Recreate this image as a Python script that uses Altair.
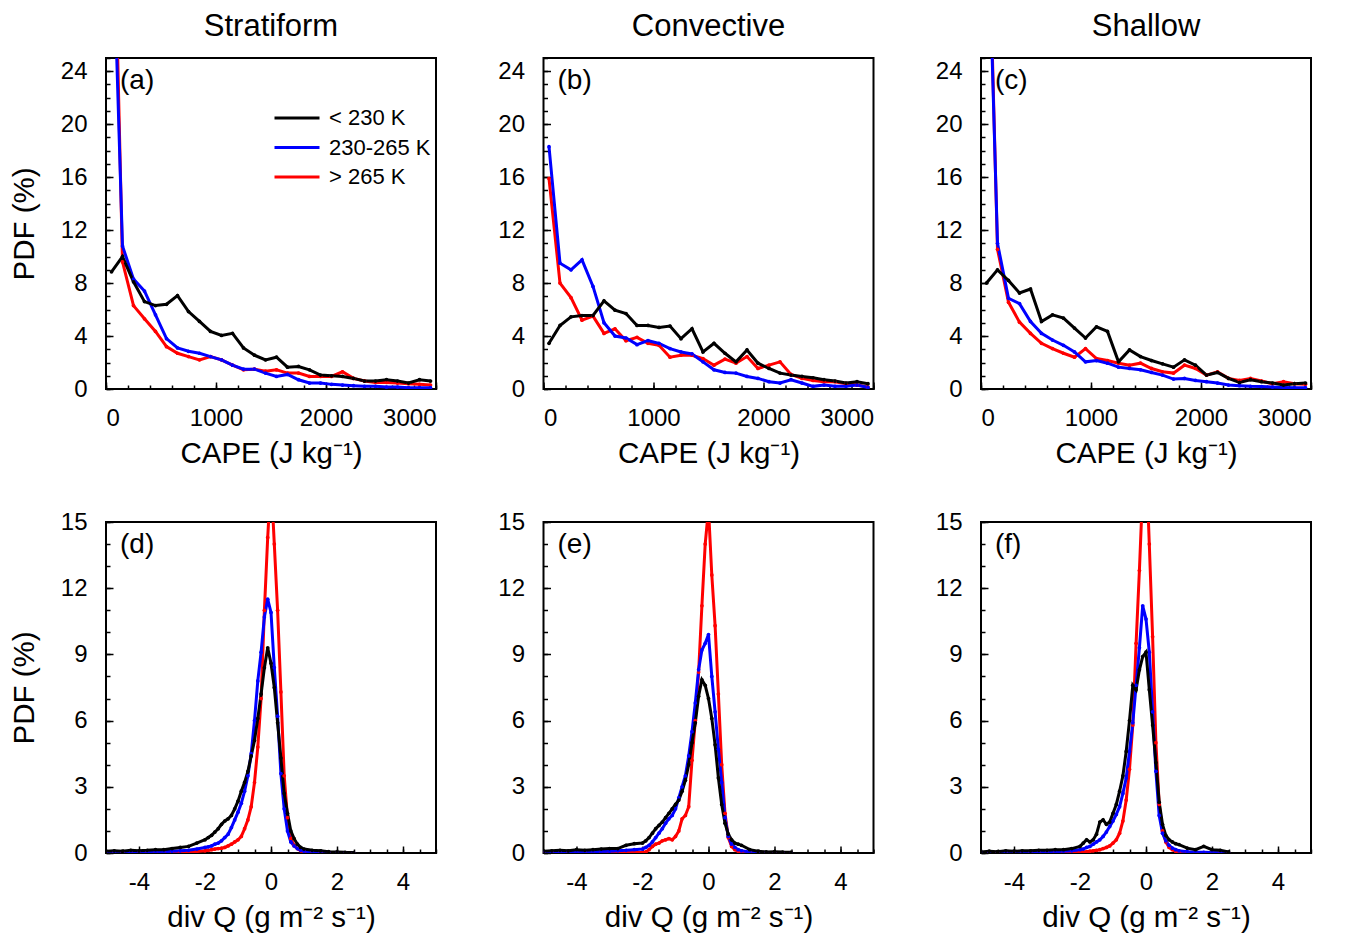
import altair as alt
import pandas as pd

FONT = "Liberation Sans"
SERIES = ["< 230 K", "230-265 K", "> 265 K"]
COLORS = ["#000000", "#0000ff", "#ff0000"]

# ---------------- top row: CAPE ----------------
CAPE = [50, 150, 250, 350, 450, 550, 650, 750, 850, 950, 1050, 1150, 1250, 1350, 1450,
        1550, 1650, 1750, 1850, 1950, 2050, 2150, 2250, 2350, 2450, 2550, 2650, 2750, 2850, 2950]

A_COLD = [8.85, 10.0, 8.1, 6.6, 6.3, 6.4, 7.05, 5.85, 5.1, 4.35, 4.05, 4.2, 3.1, 2.55, 2.2,
          2.4, 1.65, 1.7, 1.45, 1.05, 1.0, 0.95, 0.8, 0.6, 0.6, 0.7, 0.6, 0.45, 0.7, 0.6]
A_MID = [38, 10.8, 8.3, 7.4, 5.6, 3.8, 3.1, 2.85, 2.7, 2.45, 2.2, 1.8, 1.5, 1.5, 1.2,
         0.95, 1.1, 0.7, 0.45, 0.45, 0.35, 0.3, 0.25, 0.2, 0.2, 0.15, 0.15, 0.1, 0.1, 0.1]
A_WARM = [45, 9.6, 6.3, 5.3, 4.35, 3.2, 2.7, 2.45, 2.2, 2.45, 2.2, 1.8, 1.45, 1.5, 1.35,
          1.45, 1.2, 1.2, 0.95, 0.95, 0.95, 1.3, 0.8, 0.6, 0.5, 0.5, 0.45, 0.4, 0.35, 0.3]

B_COLD = [3.45, 4.8, 5.45, 5.55, 5.55, 6.65, 5.95, 5.7, 4.8, 4.8, 4.65, 4.75, 3.8, 4.55, 2.8,
          3.45, 2.7, 2.05, 2.95, 1.95, 1.55, 1.2, 1.05, 0.95, 0.85, 0.7, 0.6, 0.45, 0.55, 0.4]
B_MID = [18.3, 9.5, 9.0, 9.75, 7.75, 5.0, 4.0, 3.85, 3.35, 3.65, 3.45, 3.05, 2.8, 2.65, 2.05,
         1.45, 1.25, 1.2, 0.95, 0.8, 0.55, 0.45, 0.7, 0.45, 0.2, 0.3, 0.2, 0.2, 0.3, 0.12]
B_WARM = [15.9, 8.0, 6.9, 5.2, 5.5, 4.2, 4.55, 3.65, 3.9, 3.45, 3.3, 2.4, 2.55, 2.55, 2.3,
          1.8, 2.25, 1.95, 2.45, 1.55, 1.8, 2.05, 1.1, 0.8, 0.65, 0.55, 0.55, 0.4, 0.3, 0.15]

C_COLD = [8.0, 9.0, 8.2, 7.25, 7.55, 5.1, 5.6, 5.35, 4.6, 3.85, 4.7, 4.35, 2.05, 2.95, 2.45,
          2.15, 1.9, 1.65, 2.2, 1.8, 1.05, 1.25, 0.8, 0.5, 0.7, 0.55, 0.45, 0.3, 0.4, 0.45]
C_MID = [40, 11.0, 6.85, 6.45, 5.1, 4.2, 3.7, 3.3, 2.8, 2.05, 2.15, 1.95, 1.65, 1.55, 1.45,
         1.25, 1.05, 0.75, 0.8, 0.65, 0.55, 0.45, 0.3, 0.25, 0.2, 0.18, 0.15, 0.12, 0.1, 0.1]
C_WARM = [42, 10.55, 6.55, 5.05, 4.2, 3.45, 3.05, 2.7, 2.4, 3.05, 2.3, 2.15, 1.95, 1.8, 1.95,
          1.55, 1.3, 1.2, 1.8, 1.55, 1.05, 1.3, 0.8, 0.65, 0.8, 0.6, 0.4, 0.55, 0.4, 0.35]

# ---------------- bottom row: div Q ----------------
DIVQ = [-5.0, -4.75, -4.5, -4.25, -4.0, -3.75, -3.5, -3.25, -3.0, -2.75, -2.5, -2.25, -2.0,
        -1.9, -1.8, -1.7, -1.6, -1.5, -1.4, -1.3, -1.2, -1.1, -1.0, -0.9, -0.8, -0.7, -0.6,
        -0.5, -0.4, -0.3, -0.2, -0.1, 0.0, 0.1, 0.2, 0.3, 0.4, 0.5, 0.6, 0.7, 0.8, 0.9, 1.0,
        1.25, 1.5, 1.75, 2.0, 2.25, 2.5]

D_COLD = [0.08, 0.1, 0.08, 0.12, 0.1, 0.12, 0.15, 0.15, 0.2, 0.25, 0.3, 0.45, 0.6,
          0.7, 0.8, 0.95, 1.1, 1.3, 1.45, 1.55, 1.7, 2.0, 2.35, 2.8, 3.2, 3.7, 4.4,
          5.1, 6.1, 7.2, 8.4, 9.3, 8.6, 7.5, 5.9, 4.3, 2.7, 1.8, 1.0, 0.65, 0.4, 0.25, 0.18,
          0.12, 0.1, 0.06, 0.05, 0.03, 0.02]
D_MID = [0.03, 0.03, 0.04, 0.03, 0.05, 0.04, 0.05, 0.06, 0.08, 0.1, 0.12, 0.18, 0.25,
         0.28, 0.32, 0.4, 0.45, 0.55, 0.7, 0.85, 1.15, 1.5, 1.85, 2.25, 2.8, 3.5, 4.5,
         6.0, 7.8, 9.1, 10.7, 11.5, 10.9, 8.4, 6.2, 3.6, 2.0, 1.0, 0.5, 0.32, 0.2, 0.12, 0.08,
         0.05, 0.03, 0.02, 0.02, 0.01, 0.01]
D_WARM = [0.01, 0.01, 0.02, 0.01, 0.02, 0.02, 0.02, 0.03, 0.03, 0.04, 0.05, 0.07, 0.1,
          0.12, 0.15, 0.18, 0.2, 0.22, 0.25, 0.32, 0.4, 0.5, 0.6, 0.75, 1.1, 1.5, 2.1,
          3.2, 4.8, 7.0, 11.0, 14.3, 17.0, 14.0, 11.0, 7.3, 3.5, 1.6, 0.65, 0.35, 0.2, 0.1, 0.06,
          0.03, 0.02, 0.01, 0.01, 0.0, 0.0]

E_COLD = [0.08, 0.1, 0.12, 0.1, 0.15, 0.12, 0.15, 0.18, 0.2, 0.2, 0.35, 0.42, 0.45,
          0.55, 0.7, 0.9, 1.1, 1.25, 1.4, 1.6, 1.8, 2.0, 2.2, 2.4, 2.8, 3.3, 4.0,
          5.0, 5.9, 7.1, 7.85, 7.6, 7.0, 6.1, 4.9, 3.4, 2.2, 1.35, 0.85, 0.6, 0.45, 0.4, 0.35,
          0.15, 0.08, 0.05, 0.06, 0.04, 0.03]
E_MID = [0.03, 0.04, 0.03, 0.05, 0.04, 0.05, 0.06, 0.07, 0.08, 0.1, 0.12, 0.15, 0.18,
         0.25, 0.35, 0.5, 0.7, 0.9, 1.1, 1.35, 1.55, 1.7, 2.0, 2.5, 3.0, 3.5, 4.4,
         5.5, 6.8, 8.3, 9.2, 9.5, 9.9, 8.0, 6.4, 4.7, 3.2, 1.6, 0.75, 0.4, 0.25, 0.15, 0.1,
         0.05, 0.03, 0.02, 0.01, 0.01, 0.0]
E_WARM = [0.0, 0.01, 0.0, 0.01, 0.0, 0.01, 0.0, 0.01, 0.01, 0.01, 0.02, 0.02, 0.03,
          0.05, 0.15, 0.3, 0.4, 0.45, 0.55, 0.6, 0.65, 0.6, 0.75, 1.0, 1.55, 1.7, 2.1,
          4.2, 6.0, 8.2, 11.2, 14.0, 15.6, 12.6, 10.3, 7.2, 4.0, 1.8, 0.7, 0.3, 0.15, 0.08, 0.05,
          0.03, 0.01, 0.0, 0.0, 0.0, 0.0]

F_COLD = [0.05, 0.08, 0.06, 0.1, 0.08, 0.1, 0.1, 0.12, 0.12, 0.15, 0.15, 0.2, 0.3,
          0.45, 0.6, 0.5, 0.6, 0.85, 1.4, 1.5, 1.3, 1.4, 1.8, 2.2, 2.8, 3.5, 4.6,
          6.0, 7.6, 7.4, 8.3, 8.9, 9.1, 7.4, 5.8, 4.1, 2.3, 1.3, 0.8, 0.6, 0.5, 0.42, 0.38,
          0.22, 0.15, 0.3, 0.15, 0.12, 0.05]
F_MID = [0.02, 0.03, 0.02, 0.03, 0.03, 0.04, 0.04, 0.05, 0.05, 0.06, 0.08, 0.1, 0.15,
         0.18, 0.25, 0.3, 0.4, 0.5, 0.6, 0.75, 0.95, 1.2, 1.45, 1.75, 2.1, 2.7, 3.4,
         4.6, 5.9, 7.6, 9.3, 11.2, 10.6, 9.1, 6.4, 3.7, 1.7, 0.9, 0.55, 0.35, 0.22, 0.15, 0.1,
         0.06, 0.04, 0.03, 0.02, 0.01, 0.01]
F_WARM = [0.0, 0.0, 0.01, 0.0, 0.01, 0.0, 0.01, 0.01, 0.01, 0.02, 0.02, 0.03, 0.04,
          0.05, 0.06, 0.08, 0.1, 0.12, 0.15, 0.2, 0.25, 0.32, 0.45, 0.6, 0.9, 1.45, 2.4,
          3.8, 5.8, 9.5, 12.8, 16.5, 18.0, 14.0, 9.8, 5.0, 2.2, 1.0, 0.5, 0.25, 0.15, 0.08, 0.05,
          0.03, 0.01, 0.01, 0.0, 0.0, 0.0]

# axis ticks
CAPE_MAJOR = [0, 1000, 2000, 3000]
CAPE_MINOR = [0, 200, 400, 600, 800, 1000, 1200, 1400, 1600, 1800, 2000, 2200, 2400, 2600, 2800, 3000]
PDF_TOP_MAJOR = [0, 4, 8, 12, 16, 20, 24]
PDF_TOP_MINOR = list(range(0, 26))
DIVQ_MAJOR = [-4, -2, 0, 2, 4]
DIVQ_MINOR = [-5, -4.5, -4, -3.5, -3, -2.5, -2, -1.5, -1, -0.5, 0, 0.5, 1, 1.5, 2, 2.5, 3, 3.5, 4, 4.5, 5]
PDF_BOT_MAJOR = [0, 3, 6, 9, 12, 15]
PDF_BOT_MINOR = list(range(0, 16))

COLUMN_TITLES = ["Stratiform", "Convective", "Shallow"]
LETTERS = ["(a)", "(b)", "(c)", "(d)", "(e)", "(f)"]


def long_df(x, cold, mid, warm):
    rows = []
    for name, vals in (("> 265 K", warm), ("230-265 K", mid), ("< 230 K", cold)):
        for xv, yv in zip(x, vals):
            rows.append({"x": xv, "y": yv, "series": name})
    return pd.DataFrame(rows)


def panel(df, letter, top, title=None, ytitle=None, legend=False):
    if top:
        xdom, xmaj, xmin = [0, 3000], CAPE_MAJOR, CAPE_MINOR
        ydom, ymaj, ymin = [0, 25], PDF_TOP_MAJOR, PDF_TOP_MINOR
        xtitle = "CAPE (J kg\u207b\u00b9)"
    else:
        xdom, xmaj, xmin = [-5, 5], DIVQ_MAJOR, DIVQ_MINOR
        ydom, ymaj, ymin = [0, 15], PDF_BOT_MAJOR, PDF_BOT_MINOR
        xtitle = "div Q (g m\u207b\u00b2 s\u207b\u00b9)"
    xs = alt.Scale(domain=xdom, nice=False, zero=False)
    ys = alt.Scale(domain=ydom, nice=False, zero=False)
    if legend:
        leg = alt.Legend(title=None, orient="none", legendX=167, legendY=49,
                         symbolType="stroke", symbolSize=2025, symbolStrokeWidth=3,
                         labelFontSize=22, labelFont=FONT, labelColor="black",
                         labelOffset=8, rowPadding=7.5, clipHeight=22, padding=0)
    else:
        leg = None
    yaxis_kw = dict(orient="left", values=ymaj, tickSize=7, offset=-7, domain=False,
                    grid=False, labelPadding=19, labelExpr="toString(datum.value)")
    if ytitle:
        yaxis_kw.update(title=ytitle, titlePadding=21)
    else:
        yaxis_kw.update(title=None)
    lines = alt.Chart(df).mark_line(
        clip=True, strokeWidth=3,
        point=alt.OverlayMarkDef(filled=True, size=14, clip=True)
    ).encode(
        x=alt.X("x:Q", scale=xs,
                axis=alt.Axis(orient="bottom", values=xmaj, tickSize=7, offset=-7,
                              domain=False, grid=False, labelPadding=17,
                              labelExpr="toString(datum.value)",
                              title=xtitle, titlePadding=9)),
        y=alt.Y("y:Q", scale=ys, axis=alt.Axis(**yaxis_kw)),
        color=alt.Color("series:N", scale=alt.Scale(domain=SERIES, range=COLORS), legend=leg),
    )
    minor = alt.Chart(df).mark_point(opacity=0, clip=True).encode(
        x=alt.X("x:Q", scale=xs,
                axis=alt.Axis(orient="bottom", values=xmin, tickSize=4, offset=-4,
                              domain=False, grid=False, labels=False, title=None)),
        y=alt.Y("y:Q", scale=ys,
                axis=alt.Axis(orient="left", values=ymin, tickSize=4, offset=-4,
                              domain=False, grid=False, labels=False, title=None)),
    )
    lab = alt.Chart(pd.DataFrame({"t": [letter]})).mark_text(
        align="left", baseline="middle", fontSize=28, font=FONT, color="black"
    ).encode(x=alt.value(14), y=alt.value(23), text="t:N")
    props = dict(width=330, height=331)
    if title:
        props["title"] = alt.TitleParams(title, fontSize=31, font=FONT, fontWeight="normal",
                                         baseline="alphabetic", offset=-10, anchor="middle",
                                         color="black")
    return alt.layer(lines, minor, lab).resolve_axis(x="independent", y="independent").properties(**props)


dfs = [
    long_df(CAPE, A_COLD, A_MID, A_WARM),
    long_df(CAPE, B_COLD, B_MID, B_WARM),
    long_df(CAPE, C_COLD, C_MID, C_WARM),
    long_df(DIVQ, D_COLD, D_MID, D_WARM),
    long_df(DIVQ, E_COLD, E_MID, E_WARM),
    long_df(DIVQ, F_COLD, F_MID, F_WARM),
]

panels = []
for i, df in enumerate(dfs):
    top = i < 3
    panels.append(panel(
        df, LETTERS[i], top,
        title=COLUMN_TITLES[i] if top else None,
        ytitle="PDF (%)" if i % 3 == 0 else None,
        legend=(i == 0),
    ))

chart = alt.concat(
    *panels, columns=3, spacing={"row": 133, "column": 107.5}, bounds="flush"
).resolve_scale(color="independent").resolve_legend(color="independent").configure_view(
    stroke="black", strokeWidth=2
).configure_axis(
    labelFont=FONT, labelFontSize=24, labelColor="black",
    titleFont=FONT, titleFontSize=29.5, titleFontWeight="normal", titleColor="black",
    tickColor="black", tickWidth=1.5
).properties(padding={"left": 0, "top": 2, "right": 5, "bottom": 5})

chart.save("out.html", embed_options={"renderer": "svg", "actions": False})
